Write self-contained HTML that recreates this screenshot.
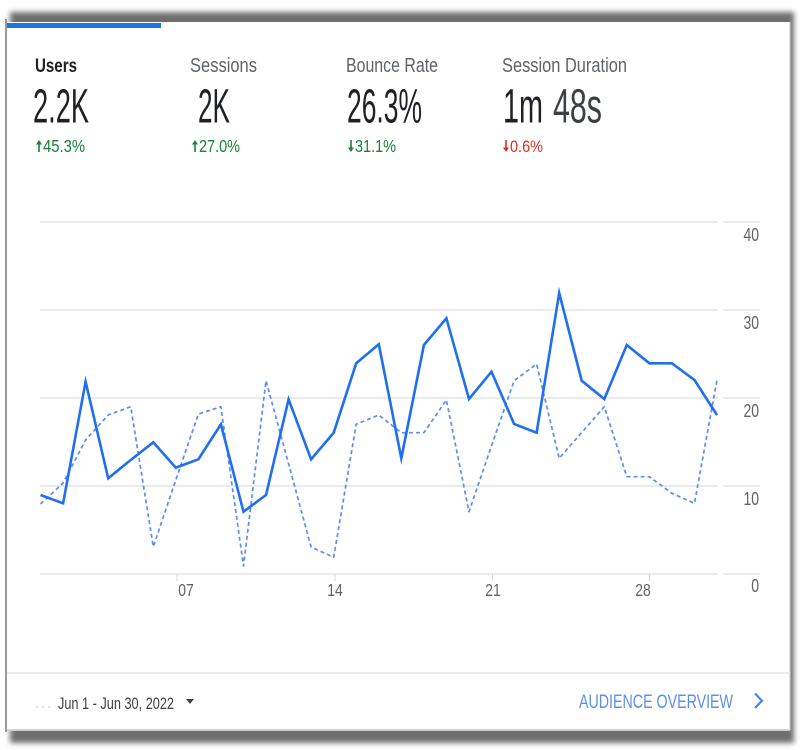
<!DOCTYPE html>
<html>
<head>
<meta charset="utf-8">
<style>
html,body{margin:0;padding:0;background:#fff;}
body{width:800px;height:750px;overflow:hidden;}
svg{display:block;}
text{font-family:"Liberation Sans",Arial,sans-serif;}
</style>
</head>
<body>
<svg width="800" height="750" viewBox="0 0 800 750" xmlns="http://www.w3.org/2000/svg">
  <defs>
    <filter id="blur" x="-5%" y="-5%" width="110%" height="110%">
      <feGaussianBlur stdDeviation="2.6"/>
    </filter>
  </defs>
  <rect x="0" y="0" width="800" height="750" fill="#fff"/>
  <!-- shadow -->
  <rect x="10" y="12" width="784" height="731" fill="#6e6e6e" filter="url(#blur)"/>
  <!-- card -->
  <rect x="7" y="22" width="783" height="708" fill="#fff"/>
  <rect x="5" y="19" width="2" height="713" fill="#9a9a9a"/>
  <rect x="7" y="729" width="783" height="2" fill="#d2d2d2"/>
  <rect x="789" y="22" width="1.5" height="708" fill="#dedede"/>

  <!-- top blue bar -->
  <rect x="7" y="23" width="154" height="5" fill="#1a73e8"/>

  <!-- stat labels -->
  <text transform="translate(35,72) scale(1,1.3)" font-size="15" font-weight="bold" fill="#202124" textLength="42" lengthAdjust="spacingAndGlyphs">Users</text>
  <text transform="translate(190,72) scale(1,1.25)" font-size="16" fill="#5f6368" textLength="67" lengthAdjust="spacingAndGlyphs">Sessions</text>
  <text transform="translate(346,72) scale(1,1.25)" font-size="16" fill="#5f6368" textLength="92" lengthAdjust="spacingAndGlyphs">Bounce Rate</text>
  <text transform="translate(502,72) scale(1,1.25)" font-size="16" fill="#5f6368" textLength="125" lengthAdjust="spacingAndGlyphs">Session Duration</text>

  <!-- big numbers -->
  <text transform="translate(33,122.5) scale(1,1.8)" font-size="27" fill="#202124" textLength="56" lengthAdjust="spacingAndGlyphs">2.2K</text>
  <text transform="translate(198,122.5) scale(1,1.8)" font-size="27" fill="#202124" textLength="32" lengthAdjust="spacingAndGlyphs">2K</text>
  <text transform="translate(347,122.5) scale(1,1.8)" font-size="27" fill="#202124" textLength="75" lengthAdjust="spacingAndGlyphs">26.3%</text>
  <text transform="translate(503,122.5) scale(1,1.8)" font-size="27" fill="#202124" textLength="40" lengthAdjust="spacingAndGlyphs">1m</text>
  <text transform="translate(553,122.5) scale(1,1.8)" font-size="27" fill="#3c4043" textLength="49" lengthAdjust="spacingAndGlyphs">48s</text>

  <!-- changes -->
  <g fill="#188038">
    <polygon points="36,144.5 42,144.5 39,140"/>
    <rect x="38.2" y="143" width="1.6" height="9"/>
    <text transform="translate(43,152) scale(1,1.2)" font-size="14.5" textLength="42" lengthAdjust="spacingAndGlyphs">45.3%</text>
    <polygon points="192,144.5 198,144.5 195,140"/>
    <rect x="194.2" y="143" width="1.6" height="9"/>
    <text transform="translate(199,152) scale(1,1.2)" font-size="14.5" textLength="41" lengthAdjust="spacingAndGlyphs">27.0%</text>
    <polygon points="348,147.5 354,147.5 351,152"/>
    <rect x="350.2" y="140" width="1.6" height="9"/>
    <text transform="translate(355,152) scale(1,1.2)" font-size="14.5" textLength="41" lengthAdjust="spacingAndGlyphs">31.1%</text>
  </g>
  <g fill="#d93025">
    <polygon points="503,147.5 509,147.5 506,152"/>
    <rect x="505.2" y="140" width="1.6" height="9"/>
    <text transform="translate(510,152) scale(1,1.2)" font-size="14" textLength="33" lengthAdjust="spacingAndGlyphs">0.6%</text>
  </g>

  <!-- gridlines -->
  <g stroke="#ebebeb" stroke-width="2">
    <line x1="40" y1="222" x2="718" y2="222"/><line x1="723" y1="222" x2="760" y2="222"/>
    <line x1="40" y1="310" x2="718" y2="310"/><line x1="723" y1="310" x2="760" y2="310"/>
    <line x1="40" y1="398" x2="718" y2="398"/><line x1="723" y1="398" x2="760" y2="398"/>
    <line x1="40" y1="486" x2="718" y2="486"/><line x1="723" y1="486" x2="760" y2="486"/>
    <line x1="40" y1="574" x2="718" y2="574"/><line x1="723" y1="574" x2="760" y2="574"/>
  </g>
  <!-- ticks -->
  <g stroke="#d8d8d8" stroke-width="1">
    <line x1="177" y1="574" x2="177" y2="581"/>
    <line x1="335" y1="574" x2="335" y2="581"/>
    <line x1="492.5" y1="574" x2="492.5" y2="581"/>
    <line x1="649.5" y1="574" x2="649.5" y2="581"/>
  </g>

  <!-- y labels -->
  <g fill="#5f6368" font-size="14" text-anchor="end">
    <text transform="translate(759,241) scale(1,1.3)">40</text>
    <text transform="translate(759,329) scale(1,1.3)">30</text>
    <text transform="translate(759,417) scale(1,1.3)">20</text>
    <text transform="translate(759,505) scale(1,1.3)">10</text>
    <text transform="translate(759,592) scale(1,1.3)">0</text>
  </g>
  <!-- x labels -->
  <g fill="#5f6368" font-size="14" text-anchor="middle">
    <text transform="translate(186,596) scale(1,1.25)">07</text>
    <text transform="translate(335,596) scale(1,1.25)">14</text>
    <text transform="translate(493,596) scale(1,1.25)">21</text>
    <text transform="translate(643,596) scale(1,1.25)">28</text>
  </g>

  <!-- dashed series -->
  <polyline fill="none" stroke="#5a8ef0" stroke-width="1.7" stroke-dasharray="4 3" stroke-linejoin="round"
    points="40.5,504 63.1,483 85.6,440 108.2,415 130.7,406.7 153.3,546.7 175.8,480 198.4,414 220.9,406.7 243.5,566 266.0,380.7 288.6,464 311.1,547 333.7,557.3 356.2,424.3 378.8,415 401.3,432.7 423.9,432.7 446.4,400 469.0,511.7 491.5,446 514.1,380.7 536.6,364 559.2,458.3 581.7,432.6 604.3,406.7 626.8,476.7 649.4,476.7 671.9,493.3 694.5,503.3 717.0,380"/>

  <!-- solid series -->
  <polyline fill="none" stroke="#1f6ff0" stroke-width="2.6" stroke-linejoin="miter" stroke-miterlimit="10"
    points="40.5,495 63.1,503.3 85.6,381.7 108.2,478.3 130.7,460 153.3,442.3 175.8,467.7 198.4,459.3 220.9,424.3 243.5,511.7 266.0,495 288.6,399.3 311.1,459.3 333.7,432.7 356.2,363.3 378.8,344.3 401.3,458.3 423.9,345 446.4,318.3 469.0,399 491.5,371.7 514.1,424 536.6,432.7 559.2,293 581.7,380.7 604.3,399 626.8,345 649.4,363.3 671.9,363.3 694.5,380 717.0,415"/>

  <!-- footer separator -->
  <rect x="7" y="672" width="783" height="2" fill="#ebebeb"/>

  <!-- footer -->
  <g fill="#dcdcdc">
    <circle cx="37" cy="707" r="1"/><circle cx="43" cy="707" r="1"/><circle cx="49" cy="707" r="1"/>
  </g>
  <text transform="translate(58,709) scale(1,1.3)" font-size="12.5" fill="#3c4043" textLength="116" lengthAdjust="spacingAndGlyphs">Jun 1 - Jun 30, 2022</text>
  <polygon points="186,699 194,699 190,704" fill="#3c4043"/>
  <text transform="translate(579,708) scale(1,1.45)" font-size="13.5" fill="#5b8ff0" textLength="154" lengthAdjust="spacingAndGlyphs">AUDIENCE OVERVIEW</text>
  <polyline points="755,693.5 762,700.8 755,708" fill="none" stroke="#4285f4" stroke-width="2.2"/>
</svg>
</body>
</html>
